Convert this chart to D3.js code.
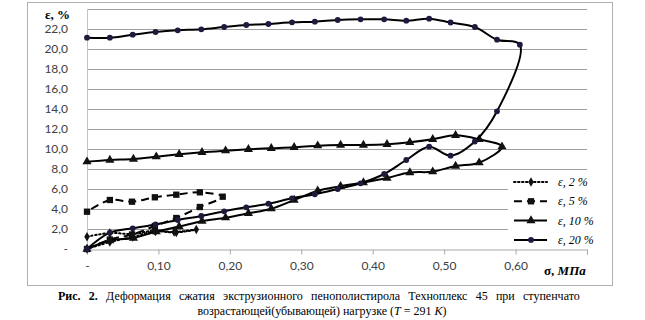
<!DOCTYPE html>
<html><head><meta charset="utf-8">
<script src="https://cdn.jsdelivr.net/npm/d3@7"></script>
<style>body{margin:0;background:#fff}svg{display:block}</style>
</head><body>
<svg id="c" width="645" height="320"></svg>
<script>
// ---- data ----
const seriesNames = ["ε, 2 %", "ε, 5 %", "ε, 10 %", "ε, 20 %"];
const sigma2 = [0, 0.032, 0.064, 0.096, 0.125, 0.153, 0.122, 0.094, 0.064, 0.032, 0];
const eps2   = [0, 0.7, 1.2, 1.75, 1.65, 1.95, 1.7, 1.85, 1.5, 1.6, 1.23];
const sigma5 = [0, 0.032, 0.063, 0.095, 0.125, 0.158, 0.19, 0.158, 0.125, 0.095, 0.063, 0.032, 0];
const eps5   = [0, 0.95, 1.45, 2.3, 3.1, 4.2, 5.23, 5.67, 5.43, 5.17, 4.73, 4.9, 3.73];
const sigma10 = [0, 0.032, 0.065, 0.097, 0.129, 0.161, 0.194, 0.226, 0.258, 0.29, 0.323, 0.355, 0.387, 0.42, 0.452, 0.484, 0.516, 0.549, 0.581,
                 0.549, 0.516, 0.484, 0.452, 0.42, 0.387, 0.355, 0.323, 0.29, 0.258, 0.226, 0.194, 0.161, 0.129, 0.097, 0.065, 0.032, 0];
const eps10   = [0, 0.85, 1.1, 1.75, 2.25, 2.78, 3.13, 3.57, 4.03, 4.9, 5.83, 6.28, 6.65, 7.1, 7.65, 7.73, 8.3, 8.63, 10.23,
                 10.97, 11.37, 10.97, 10.67, 10.47, 10.4, 10.4, 10.33, 10.17, 10.07, 9.97, 9.83, 9.67, 9.47, 9.23, 9.0, 8.9, 8.73];
const sigma20 = [0, 0.032, 0.064, 0.096, 0.127, 0.16, 0.192, 0.223, 0.254, 0.287, 0.319, 0.351, 0.383, 0.416, 0.447, 0.479, 0.509, 0.543, 0.574, 0.606,
                 0.574, 0.543, 0.509, 0.479, 0.447, 0.416, 0.383, 0.351, 0.319, 0.287, 0.254, 0.223, 0.192, 0.16, 0.127, 0.096, 0.064, 0.032, 0];
const eps20   = [0, 1.63, 2.07, 2.45, 2.9, 3.3, 3.77, 4.17, 4.53, 5.07, 5.47, 6.0, 6.57, 7.5, 8.9, 10.23, 9.33, 10.75, 13.77, 20.43,
                 20.93, 22.2, 22.65, 23.03, 22.83, 22.97, 22.97, 22.9, 22.73, 22.67, 22.5, 22.4, 22.2, 21.97, 21.87, 21.7, 21.43, 21.13, 21.13];
const yTicks = [0, 2, 4, 6, 8, 10, 12, 14, 16, 18, 20, 22];
const yTickLabels = ["-", "2,0", "4,0", "6,0", "8,0", "10,0", "12,0", "14,0", "16,0", "18,0", "20,0", "22,0"];
const xTicks = [0, 0.1, 0.2, 0.3, 0.4, 0.5, 0.6, 0.7];
const xTickLabels = ["-", "0,10", "0,20", "0,30", "0,40", "0,50", "0,60", ""];

const svg = d3.select("#c");
const x = d3.scaleLinear().domain([0, 0.7]).range([87, 587]);
const y = d3.scaleLinear().domain([0, 24]).range([249, 9]);

// outer frame
svg.append("rect").attr("x", 27.5).attr("y", 2.5).attr("width", 585).attr("height", 283)
  .attr("fill", "none").attr("stroke", "#b0b0b0").attr("stroke-width", 1);

// horizontal gridlines
const grid = d3.range(2, 25, 2);
svg.append("g").selectAll("line").data(grid).join("line")
  .attr("x1", x(0)).attr("x2", x(0.7))
  .attr("y1", d => Math.round(y(d)) + 0.5).attr("y2", d => Math.round(y(d)) + 0.5)
  .attr("stroke", "#a0a0a0").attr("stroke-width", 1);

// y axis line
svg.append("line").attr("x1", x(0) + 0.5).attr("x2", x(0) + 0.5).attr("y1", y(24)).attr("y2", y(0))
  .attr("stroke", "#c4c4c4");

// x axis
const xAxis = d3.axisBottom(x).tickValues(xTicks).tickSize(5).tickFormat((d, i) => xTickLabels[i]);
const gx = svg.append("g").attr("transform", `translate(0,${Math.round(y(0)) + 0.5})`).call(xAxis);
gx.select(".domain").attr("stroke", "#a8a8a8");
gx.selectAll(".tick line").attr("stroke", "#a8a8a8");
gx.selectAll(".tick text").attr("dy", "1.05em").attr("y", 8)
  .style("font-family", "Lato, 'Open Sans', sans-serif").style("font-size", "12px").attr("fill", "#404040");

// y axis labels
const yAxis = d3.axisLeft(y).tickValues(yTicks).tickSize(0).tickPadding(0).tickFormat((d, i) => yTickLabels[i]);
const gy = svg.append("g").attr("transform", `translate(68,0)`).call(yAxis);
gy.select(".domain").remove();
gy.selectAll(".tick text").style("font-family", "Lato, 'Open Sans', sans-serif").style("font-size", "12px").attr("fill", "#404040");

// axis titles
svg.append("text").attr("x", 45).attr("y", 19)
  .style("font-family", "'Liberation Serif', serif").style("font-size", "13px").style("font-weight", "bold")
  .text("ε, %");
const xt = svg.append("text").attr("x", 544).attr("y", 275)
  .style("font-family", "'Liberation Serif', serif").style("font-size", "13px").style("font-weight", "bold");
xt.append("tspan").text("σ, ");
xt.append("tspan").style("font-style", "italic").text("МПа");

// legend background (hides gridlines behind it)
svg.append("rect").attr("x", 508).attr("y", 172).attr("width", 80).attr("height", 74).attr("fill", "#fff");

// series
const line = d3.line().x(d => x(d[0])).y(d => y(d[1])).curve(d3.curveCatmullRom.alpha(0.5));
const zip = (a, b) => a.map((v, i) => [v, b[i]]);
const series = [
  { data: zip(sigma2, eps2), dash: "1.5,2.5", cap: "round", marker: "diamond", fill: "#111", size: 26 },
  { data: zip(sigma5, eps5), dash: "8,5", cap: "butt", marker: "square", fill: "#111", size: 40 },
  { data: zip(sigma10, eps10), dash: null, cap: "butt", marker: "triangle", fill: "#111", size: 36 },
  { data: zip(sigma20, eps20), dash: null, cap: "butt", marker: "circle", fill: "#1d1a3e", size: 26 }
];
const symType = { diamond: d3.symbolDiamond, square: d3.symbolSquare, triangle: d3.symbolTriangle, circle: d3.symbolCircle };

series.forEach(s => {
  const g = svg.append("g");
  g.append("path").attr("d", line(s.data)).attr("fill", "none").attr("stroke", "#000")
    .attr("stroke-width", 2).attr("stroke-dasharray", s.dash).attr("stroke-linecap", s.cap);
  g.selectAll("path.m").data(s.data).join("path").attr("class", "m")
    .attr("transform", d => `translate(${x(d[0])},${y(d[1])})`)
    .attr("d", d3.symbol().type(symType[s.marker]).size(s.size)).attr("fill", s.fill);
});

// legend entries
const lg = svg.append("g");
seriesNames.forEach((name, i) => {
  const s = series[i];
  const ly = 182 + i * 19.3;
  lg.append("line").attr("x1", 514).attr("x2", 547).attr("y1", ly).attr("y2", ly)
    .attr("stroke", "#000").attr("stroke-width", 2).attr("stroke-dasharray", s.dash).attr("stroke-linecap", s.cap);
  lg.append("path").attr("transform", `translate(531,${ly})`)
    .attr("d", d3.symbol().type(symType[s.marker]).size(s.size)).attr("fill", s.fill);
  lg.append("text").attr("x", 558).attr("y", ly + 4)
    .style("font-family", "'Liberation Serif', serif").style("font-size", "12px").style("font-style", "italic")
    .text(name);
});

// caption (first line justified between x=58 and x=585)
const cap1 = svg.append("text").attr("x", 58).attr("y", 300)
  .style("font-family", "'Liberation Serif', serif").style("font-size", "12px");
cap1.append("tspan").style("font-weight", "bold").text("Рис. 2.");
cap1.append("tspan").text(" Деформация сжатия экструзионного пенополистирола Техноплекс 45 при ступенчато");
const w1 = cap1.node().getComputedTextLength();
const spaces = 10;
cap1.style("word-spacing", ((585 - 58 - w1) / spaces) + "px");
const cap2 = svg.append("text").attr("x", 322).attr("y", 315).attr("text-anchor", "middle")
  .style("font-family", "'Liberation Serif', serif").style("font-size", "12px");
cap2.append("tspan").text("возрастающей(убывающей) нагрузке (");
cap2.append("tspan").style("font-style", "italic").text("T");
cap2.append("tspan").text(" = 291 ");
cap2.append("tspan").style("font-style", "italic").text("K");
cap2.append("tspan").text(")");
</script>
</body></html>
